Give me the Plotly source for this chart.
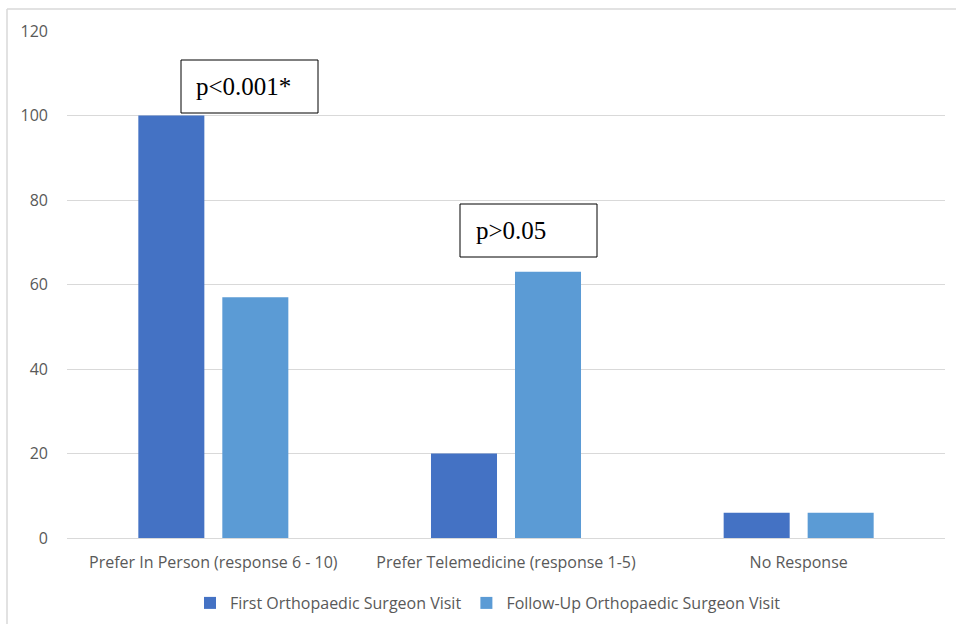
import plotly.graph_objects as go

categories = ["Prefer In Person (response 6 - 10)", "Prefer Telemedicine (response 1-5)", "No Response"]
first_visit = [100, 20, 6]
follow_up = [57, 63, 6]
series_names = ["First Orthopaedic Surgeon Visit", "Follow-Up Orthopaedic Surgeon Visit"]
y_ticks = [0, 20, 40, 60, 80, 100, 120]
p_labels = ["p<0.001*", "p>0.05"]

W, H = 956, 624
L, R, T, B = 67, 11, 31, 86
pw, ph = W - L - R, H - T - B

def px_x(x):
    return (x - L) / pw

def px_y(y):
    return (H - B - y) / ph

fig = go.Figure()
fig.add_trace(go.Bar(x=categories, y=first_visit, name=series_names[0], marker_color="#4472C4", marker_line_width=0))
fig.add_trace(go.Bar(x=categories, y=follow_up, name=series_names[1], marker_color="#5B9BD5", marker_line_width=0))

tick_font = dict(family="Open Sans, Liberation Sans, sans-serif", size=16, color="#595959")

fig.update_layout(
    width=W, height=H,
    margin=dict(l=L, r=R, t=T, b=B, autoexpand=False),
    paper_bgcolor="white", plot_bgcolor="white",
    barmode="group", bargap=0.426, bargroupgap=0.214,
    font=tick_font,
    xaxis=dict(showgrid=False, showline=False, ticks="", tickfont=tick_font, ticklabelstandoff=13,
               automargin=False),
    yaxis=dict(range=[0, 120], tickvals=y_ticks, showgrid=True, gridcolor="#d9d9d9", gridwidth=1,
               zeroline=True, zerolinecolor="#d9d9d9", zerolinewidth=1, showline=False,
               ticks="", tickfont=tick_font, ticklabelstandoff=18, automargin=False),
    legend=dict(orientation="h", x=px_x(488), xanchor="center", y=px_y(603), yanchor="middle",
                font=tick_font, itemwidth=30, traceorder="normal"),
    showlegend=True,
)

# annotation boxes (border as shapes, text as annotations)
boxes = [(181, 60, 318, 113, 195), (460, 204, 597, 257, 475)]
for (x0, y0, x1, y1, tx), lab in zip(boxes, p_labels):
    fig.add_shape(type="rect", xref="paper", yref="paper", x0=px_x(x0), x1=px_x(x1), y0=px_y(y1), y1=px_y(y0),
                  line=dict(color="#000000", width=1), fillcolor="white", layer="above")
    fig.add_annotation(
        x=px_x(tx), y=px_y((y0 + y1) / 2), xref="paper", yref="paper", text=lab, showarrow=False,
        xanchor="left", yanchor="middle", borderpad=0,
        font=dict(family="Liberation Serif, Times New Roman, serif", size=25, color="#000000"),
    )

# outer chart border (top and left)
fig.add_shape(type="line", xref="paper", yref="paper", x0=px_x(7), x1=px_x(W + 5), y0=px_y(9), y1=px_y(9),
              line=dict(color="#d9d9d9", width=1.5))
fig.add_shape(type="line", xref="paper", yref="paper", x0=px_x(7), x1=px_x(7), y0=px_y(9), y1=px_y(H + 5),
              line=dict(color="#d9d9d9", width=1.5))

fig.write_html("out.html", config={"displayModeBar": False},
               post_script="document.body.style.margin='0';document.body.style.overflow='hidden';")
